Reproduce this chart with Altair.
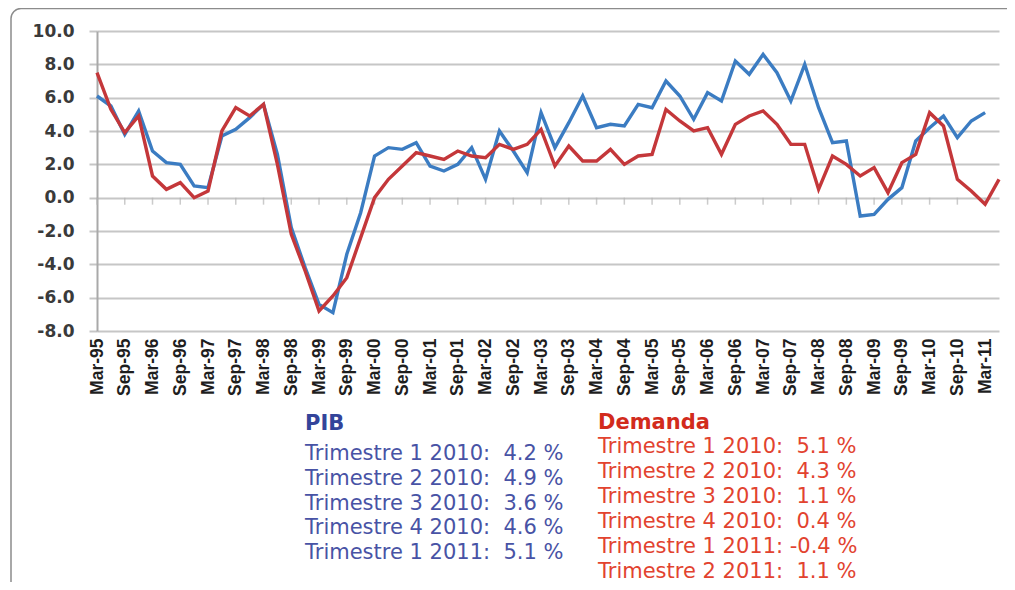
import altair as alt
import pandas as pd

# ---- categories (quarters) ----
years = ["95", "96", "97", "98", "99", "00", "01", "02", "03", "04",
         "05", "06", "07", "08", "09", "10", "11"]
months = ["Mar", "Jun", "Sep", "Dec"]
quarters = [f"{m}-{y}" for y in years for m in months][:66]
tick_labels = quarters[::2]          # Mar-95, Sep-95, ... Mar-11

# ---- series values (% growth) ----
pib = [6.1, 5.5, 3.8, 5.2, 2.8, 2.1, 2.0, 0.7, 0.6, 3.7,
       4.1, 4.8, 5.6, 2.6, -1.8, -4.2, -6.4, -6.9, -3.4, -0.9,
       2.5, 3.0, 2.9, 3.3, 1.9, 1.6, 2.0, 3.0, 1.1, 4.0,
       2.8, 1.5, 5.1, 3.0, 4.5, 6.1, 4.2, 4.4, 4.3, 5.6,
       5.4, 7.0, 6.1, 4.7, 6.3, 5.8, 8.2, 7.4, 8.6, 7.5,
       5.8, 8.0, 5.4, 3.3, 3.4, -1.1, -1.0, -0.1, 0.6, 3.4,
       4.2, 4.9, 3.6, 4.6, 5.1]
demanda = [7.5, 5.3, 3.9, 4.9, 1.3, 0.5, 0.9, 0.0, 0.4, 4.0,
           5.4, 4.9, 5.6, 2.0, -2.2, -4.4, -6.8, -5.9, -4.8, -2.4,
           0.0, 1.1, 1.9, 2.7, 2.5, 2.3, 2.8, 2.5, 2.4, 3.2,
           2.9, 3.2, 4.1, 1.9, 3.1, 2.2, 2.2, 2.9, 2.0, 2.5,
           2.6, 5.3, 4.6, 4.0, 4.2, 2.6, 4.4, 4.9, 5.2, 4.4,
           3.2, 3.2, 0.5, 2.5, 2.0, 1.3, 1.8, 0.3, 2.1, 2.6,
           5.1, 4.3, 1.1, 0.4, -0.4, 1.1]

y_ticks = [-8, -6, -4, -2, 0, 2, 4, 6, 8, 10]

pib_periods = ["Trimestre 1 2010", "Trimestre 2 2010", "Trimestre 3 2010",
               "Trimestre 4 2010", "Trimestre 1 2011"]
dem_periods = ["Trimestre 1 2010", "Trimestre 2 2010", "Trimestre 3 2010",
               "Trimestre 4 2010", "Trimestre 1 2011", "Trimestre 2 2011"]
NB = "\u00a0"
pib_lines = [f"{p}:{NB}{v:4.1f} %".replace(" ", NB)
             for p, v in zip(pib_periods, pib[-5:])]
dem_lines = [f"{p}:{NB}{v:4.1f} %".replace(" ", NB)
             for p, v in zip(dem_periods, demanda[-6:])]

BLUE = "#3b7cc2"
RED = "#c4373a"
GRID = "#c6c6c6"

df_pib = pd.DataFrame({"q": quarters[:len(pib)], "v": pib})
df_dem = pd.DataFrame({"q": quarters[:len(demanda)], "v": demanda})
df_ticks = pd.DataFrame({"q": tick_labels})

x_scale = alt.Scale(type="point", domain=quarters, padding=0)
y_scale = alt.Scale(domain=[-8, 10], nice=False)

x_axis = alt.Axis(values=tick_labels, title=None, labelAngle=-90,
                  grid=False, ticks=False, domain=False, labelPadding=7,
                  labelFont="Liberation Sans Narrow, Liberation Sans, Arial",
                  labelFontSize=17.5, labelFontWeight="bold",
                  labelColor="#1e1e1e", labelOverlap=False, labelBound=False)
y_axis = alt.Axis(values=y_ticks, title=None,
                  labelExpr="replace(format(datum.value, '.1f'), '\u2212', '-')",
                  labelFont="DejaVu Sans", labelFontSize=17,
                  labelFontWeight="bold", labelColor="#3a3a3a",
                  labelOverlap=False, labelBound=False,
                  labelPadding=15, tickSize=8, tickColor=GRID, tickWidth=2,
                  domainColor="#a9a9a9", domainWidth=2,
                  grid=True, gridColor=GRID, gridWidth=2)

X = alt.X("q:N", scale=x_scale, sort=quarters, axis=x_axis)
Y = alt.Y("v:Q", scale=y_scale, axis=y_axis)

one = alt.Data(values=[{"a": 1}])

border = alt.Chart(one).mark_rect(
    fillOpacity=0, stroke="#8c8c8c", strokeWidth=1.5, cornerRadius=10
).encode(x=alt.value(-86), x2=alt.value(940),
         y=alt.value(-22.5), y2=alt.value(600))

line_pib = alt.Chart(df_pib).mark_line(color=BLUE, strokeWidth=3.4).encode(
    x=X, y=Y)
line_dem = alt.Chart(df_dem).mark_line(color=RED, strokeWidth=3.4).encode(
    x=X, y=Y)
ticks0 = alt.Chart(df_ticks).mark_tick(
    orient="vertical", size=7, thickness=1.5, color="#b5b5b5", yOffset=3.5
).encode(x=X, y=alt.Y("z:Q", scale=y_scale, axis=y_axis)).transform_calculate(z="0")

TXT_FONT = "DejaVu Sans"
FS = 21
pib_title = alt.Chart(one).mark_text(
    text="PIB", font=TXT_FONT, fontSize=FS, fontWeight="bold",
    color="#33449a", align="left", baseline="middle"
).encode(x=alt.value(208), y=alt.value(393))
pib_text = alt.Chart(one).mark_text(
    text=pib_lines, font=TXT_FONT, fontSize=FS, lineHeight=24.8,
    color="#4853a5", align="left", baseline="top"
).encode(x=alt.value(208), y=alt.value(412))
dem_title = alt.Chart(one).mark_text(
    text="Demanda", font=TXT_FONT, fontSize=FS, fontWeight="bold",
    color="#d22b1c", align="left", baseline="middle"
).encode(x=alt.value(501), y=alt.value(392))
dem_text = alt.Chart(one).mark_text(
    text=dem_lines, font=TXT_FONT, fontSize=FS, lineHeight=25,
    color="#e2432f", align="left", baseline="top"
).encode(x=alt.value(501), y=alt.value(405))

chart = alt.layer(
    border, line_pib, ticks0, line_dem,
    pib_title, pib_text, dem_title, dem_text
).properties(
    width=902, height=300,
    autosize=alt.AutoSizeParams(type="none"),
    padding={"left": 89, "top": 23, "right": 8, "bottom": 251},
    background="white",
).configure_view(strokeWidth=0)

chart.save("out.html", embed_options={"renderer": "svg", "actions": False})
